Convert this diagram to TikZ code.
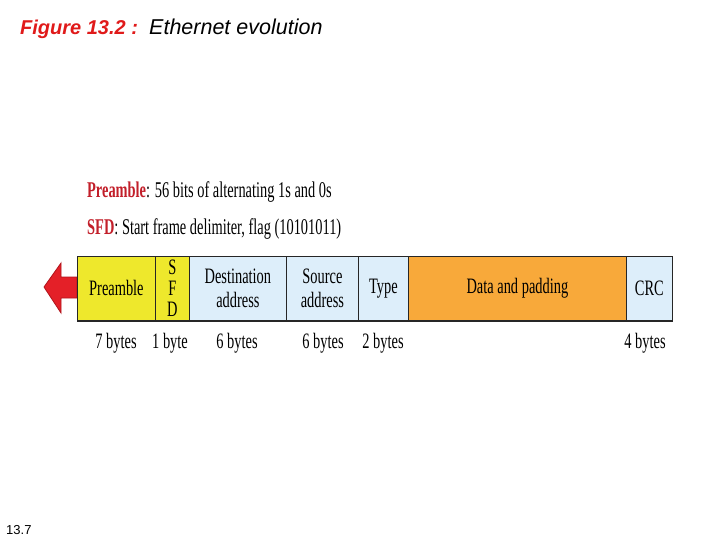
\documentclass[tikz,border=0pt]{standalone}
\usepackage{fontspec}
\setmainfont{Liberation Serif}
\newfontfamily\arialfont{Liberation Sans}
\newfontfamily\condfont[FakeStretch=0.655]{Liberation Serif}
\newfontfamily\legfont[FakeStretch=0.64]{Liberation Serif}
\definecolor{fyellow}{HTML}{EEE82C}
\definecolor{fblue}{HTML}{DDEEFA}
\definecolor{forange}{HTML}{F8A93A}
\definecolor{fred}{HTML}{E42028}
\definecolor{fdred}{HTML}{B0141C}
\definecolor{lred}{HTML}{C21F2A}
\definecolor{titlered}{HTML}{E01A1A}
\tikzset{
  field/.style={draw=black!85, line width=0.8pt, minimum height=64pt, inner sep=0pt,
    anchor=north west, align=center, font=\condfont\fontsize{22}{26}\selectfont},
  size/.style={inner sep=0pt, anchor=base, font=\condfont\fontsize{22}{24}\selectfont},
  legend/.style={inner sep=0pt, anchor=base west, font=\legfont\fontsize{22.5}{24}\selectfont}
}
\begin{document}
\begin{tikzpicture}[x=1pt,y=-1pt]
\useasboundingbox (0,0) rectangle (720,540);
% title
\node[inner sep=0pt, anchor=base west, font=\arialfont\fontsize{20}{22}\selectfont\bfseries\itshape, text=titlered] (title) at (20,34.5)
  {Figure 13.2 :};
\node[inner sep=0pt, anchor=base west, font=\arialfont\fontsize{21.5}{23}\selectfont\itshape] (title2) at (149,34.5)
  {Ethernet evolution};
\node[inner sep=0pt, anchor=base west, font=\arialfont\fontsize{13}{15}\selectfont] (pagenum) at (6,534) {13.7};
% legend
\node[legend] (leg1) at (87,198) {\textcolor{lred}{\bfseries Preamble}: 56 bits of alternating 1s and 0s};
\node[legend] (leg2) at (87,235) {\textcolor{lred}{\bfseries SFD}: Start frame delimiter, flag (10101011)};
% arrow
\path[fill=fred, draw=fdred, line width=0.8pt, line join=miter]
  (77,277) -- (61,277) -- (61,263) -- (44,287) -- (61,313) -- (61,298) -- (77,298) -- cycle;
% fields
\node[field, fill=fyellow, minimum width=78pt] (pre) at (77,256) {Preamble};
\node[field, fill=fyellow, minimum width=34pt] (sfd) at (155,256) {S\\[-5pt]F\\[-5pt]D};
\node[field, fill=fblue, minimum width=97pt] (dst) at (189,256) {Destination\\[-2pt]address};
\node[field, fill=fblue, minimum width=72pt] (src) at (286,256) {Source\\[-2pt]address};
\node[field, fill=fblue, minimum width=50pt] (typ) at (358,256) {Type};
\node[field, fill=forange, minimum width=218pt] (dat) at (408,256) {Data and padding};
\node[field, fill=fblue, minimum width=46pt] (crc) at (626,256) {CRC};
\draw[black!85, line width=1.6pt] (pre.south west) -- (crc.south east);
% sizes
\node[size] (s1) at (116,348) {7 bytes};
\node[size] (s2) at (170,348) {1 byte};
\node[size] (s3) at (237,348) {6 bytes};
\node[size] (s4) at (323,348) {6 bytes};
\node[size] (s5) at (383,348) {2 bytes};
\node[size] (s6) at (645,348) {4 bytes};
\end{tikzpicture}
\end{document}
